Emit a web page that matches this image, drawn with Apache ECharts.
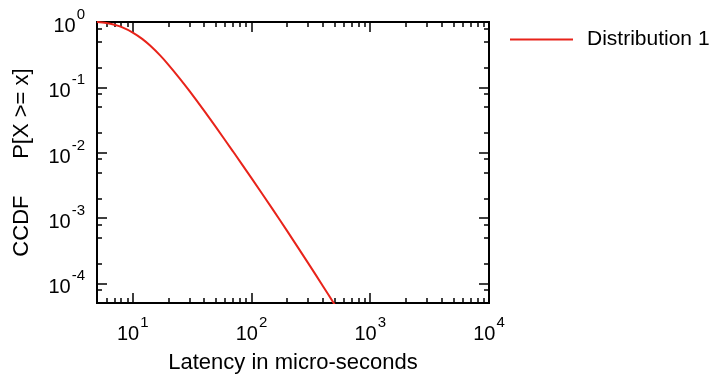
<!DOCTYPE html>
<html>
<head>
<meta charset="utf-8">
<script src="https://cdn.jsdelivr.net/npm/echarts@6/dist/echarts.min.js"></script>
<style>
  html, body { margin: 0; padding: 0; background: #fff; }
  #chart { width: 716px; height: 379px; }
</style>
</head>
<body>
<div id="chart"></div>
<script>
// values
const latencyUs = [5, 6, 7, 8, 10, 12, 14, 17, 20, 25, 30, 40, 50, 70, 100, 150, 200, 300, 400, 500];
const ccdf = [1, 0.963, 0.907, 0.84, 0.69, 0.552, 0.436, 0.308, 0.221, 0.135, 0.0882, 0.0436, 0.0248,
  0.0104, 0.00407, 0.00138, 0.000629, 0.000204, 0.0000905, 0.0000476];

const xMajorTicks = [10, 100, 1000, 10000];
const xMinorTicks = [6, 7, 8, 9, 20, 30, 40, 50, 60, 70, 80, 90,
  200, 300, 400, 500, 600, 700, 800, 900,
  2000, 3000, 4000, 5000, 6000, 7000, 8000, 9000];
const yMajorTicks = [1, 0.1, 0.01, 0.001, 0.0001];
const yMinorTicks = [0.8, 0.5, 0.2, 0.08, 0.05, 0.02, 0.008, 0.005, 0.002,
  0.0008, 0.0005, 0.0002, 0.00008];

const font = 'Liberation Sans, Arial, Helvetica, sans-serif';
const black = '#000';
const red = '#e8231a';

const chart = echarts.init(document.getElementById('chart'));

function powLabel(v) {
  const e = Math.round(Math.log10(v));
  return '{b|10}{s|' + e + '}';
}

const labelRich = {
  b: { fontSize: 20, fontFamily: font, color: black, verticalAlign: 'bottom' },
  s: { fontSize: 15, fontFamily: font, color: black, verticalAlign: 'bottom', padding: [0, 0, 14, 1] }
};

function xAxisFor(position, ticks, len, withLabels) {
  return {
    type: 'log',
    position: position,
    min: 5,
    max: 10000,
    axisLine: { show: true, lineStyle: { color: black, width: 2 } },
    axisTick: {
      show: true, inside: true, length: len, customValues: ticks,
      lineStyle: { color: black, width: 1.5 }
    },
    axisLabel: withLabels ? {
      show: true, customValues: xMajorTicks, margin: 12,
      formatter: powLabel, rich: labelRich
    } : { show: false },
    splitLine: { show: false },
    minorTick: { show: false }
  };
}

function yAxisFor(position, ticks, len, withLabels) {
  return {
    type: 'log',
    position: position,
    min: 0.00005,
    max: 1,
    axisLine: { show: true, lineStyle: { color: black, width: 2 } },
    axisTick: {
      show: true, inside: true, length: len, customValues: ticks,
      lineStyle: { color: black, width: 1.5 }
    },
    axisLabel: withLabels ? {
      show: true, customValues: yMajorTicks, margin: 12,
      formatter: powLabel, rich: labelRich
    } : { show: false },
    splitLine: { show: false },
    minorTick: { show: false }
  };
}

const xMain = xAxisFor('bottom', xMajorTicks, 10, true);
xMain.name = 'Latency in micro-seconds';
xMain.nameLocation = 'middle';
xMain.nameGap = 49;
xMain.nameTextStyle = { fontSize: 22, fontFamily: font, color: black };

const yMain = yAxisFor('left', yMajorTicks, 10, true);
yMain.name = 'CCDF      P[X >= x]';
yMain.nameLocation = 'middle';
yMain.nameGap = 64;
yMain.nameTextStyle = { fontSize: 22, fontFamily: font, color: black };

chart.setOption({
  animation: false,
  grid: { left: 97, top: 22, width: 392, height: 288, containLabel: false },
  legend: {
    left: 510,
    top: 29,
    padding: 0,
    itemWidth: 63,
    itemHeight: 2,
    icon: 'rect',
    data: ['Distribution 1'],
    textStyle: { fontSize: 21, fontFamily: font, color: black, padding: [0, 0, 0, 9] }
  },
  xAxis: [
    xMain,
    xAxisFor('bottom', xMinorTicks, 5, false),
    xAxisFor('top', xMajorTicks, 10, false),
    xAxisFor('top', xMinorTicks, 5, false)
  ],
  yAxis: [
    yMain,
    yAxisFor('left', yMinorTicks, 5, false),
    yAxisFor('right', yMajorTicks, 10, false),
    yAxisFor('right', yMinorTicks, 5, false)
  ],
  series: [{
    name: 'Distribution 1',
    type: 'line',
    xAxisIndex: 0,
    yAxisIndex: 0,
    data: latencyUs.map((x, i) => [x, ccdf[i]]),
    symbol: 'none',
    smooth: 0.3,
    clip: true,
    lineStyle: { color: red, width: 2 },
    itemStyle: { color: red }
  }]
});
</script>
</body>
</html>
